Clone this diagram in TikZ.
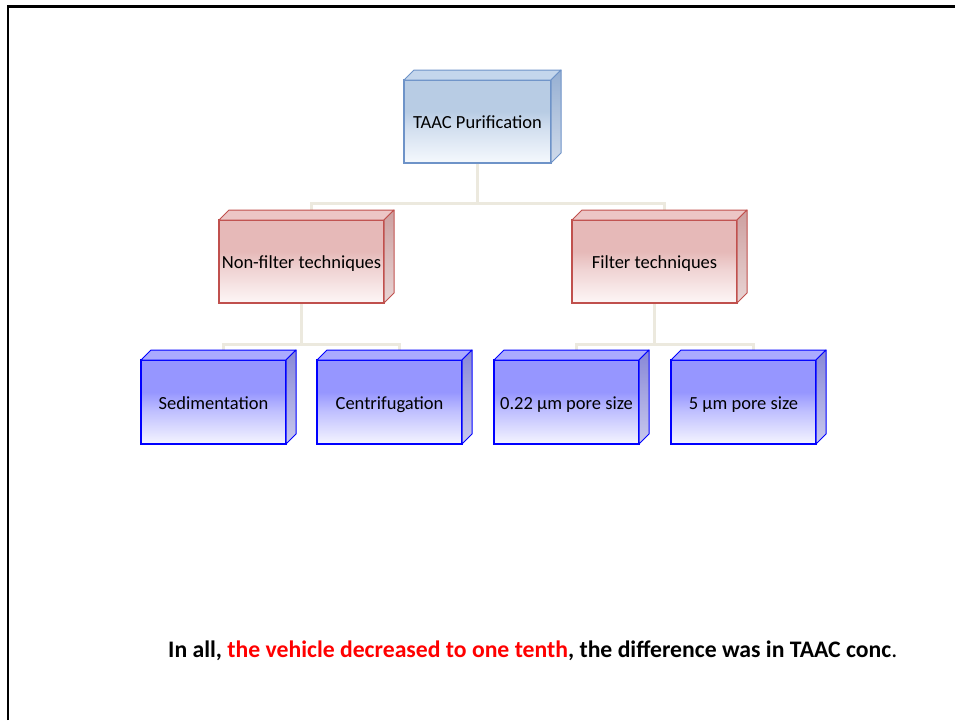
\documentclass[tikz,border=0pt]{standalone}
\usepackage{fontspec}
\setmainfont{Carlito}
\usetikzlibrary{calc,backgrounds}
\definecolor{topC}{RGB}{184,204,228}
\definecolor{topMid}{RGB}{212,224,240}
\definecolor{topBot}{RGB}{245,249,253}
\definecolor{topLine}{RGB}{110,147,200}
\definecolor{topFace}{RGB}{196,214,236}
\definecolor{topSide}{RGB}{150,175,210}
\definecolor{redC}{RGB}{230,185,184}
\definecolor{redMid}{RGB}{240,212,212}
\definecolor{redBot}{RGB}{253,246,246}
\definecolor{redLine}{RGB}{192,80,77}
\definecolor{redFace}{RGB}{236,198,198}
\definecolor{redSide}{RGB}{205,160,160}
\definecolor{bluC}{RGB}{150,150,255}
\definecolor{bluMid}{RGB}{190,190,255}
\definecolor{bluBot}{RGB}{245,245,255}
\definecolor{bluLine}{RGB}{0,0,255}
\definecolor{bluFace}{RGB}{170,170,255}
\definecolor{bluSide}{RGB}{135,135,215}
\definecolor{connC}{RGB}{236,233,222}
\definecolor{redtxt}{RGB}{255,0,0}
\pgfdeclareverticalshading{shTop}{100bp}{color(0bp)=(topBot); color(25bp)=(topBot); color(45bp)=(topMid); color(56bp)=(topC); color(100bp)=(topC)}
\pgfdeclareverticalshading{shRed}{100bp}{color(0bp)=(redBot); color(25bp)=(redBot); color(45bp)=(redMid); color(56bp)=(redC); color(100bp)=(redC)}
\pgfdeclareverticalshading{shBlu}{100bp}{color(0bp)=(bluBot); color(25bp)=(bluBot); color(45bp)=(bluMid); color(56bp)=(bluC); color(100bp)=(bluC)}
\tikzset{
  cube/.style={shade, inner sep=0pt, outer sep=0pt, line width=1.1pt, font=\fontsize{18.5}{20}\selectfont, text=black, text height=17pt, text depth=3pt, minimum height=83},
  topcube/.style={cube, draw=topLine, shading=shTop, minimum width=147},
  redcube/.style={cube, draw=redLine, shading=shRed, minimum width=165},
  blucube/.style={cube, draw=bluLine, shading=shBlu, minimum width=145, minimum height=84},
  conn/.style={draw=connC, line width=3pt},
  face/.style={line width=1pt, line join=round}
}
\newcommand\cubefaces[4]{%
  \filldraw[face, draw=#2, fill=#3] (#1.north west) -- ++(10,-10) -- ($(#1.north east)+(10,-10)$) -- (#1.north east) -- cycle;
  \shade[face, draw=#2, top color=#4, bottom color=#4!45!white] (#1.north east) -- ++(10,-10) -- ($(#1.south east)+(10,-10)$) -- (#1.south east) -- cycle;
}
\begin{document}
\begin{tikzpicture}[x=1pt,y=-1pt]
\useasboundingbox (0,0) rectangle (955,720);
\draw[line width=2.7pt] (8,720) -- (8,6.3) -- (955,6.3);

\node[topcube] (top) at (477.5,121.5) {TAAC Purification};
\cubefaces{top}{topLine}{topFace}{topSide}
\node[redcube] (non) at (301.5,261.5) {Non-filter techniques};
\cubefaces{non}{redLine}{redFace}{redSide}
\node[redcube] (fil) at (654.5,261.5) {Filter techniques};
\cubefaces{fil}{redLine}{redFace}{redSide}
\node[blucube] (sed) at (213.5,402) {Sedimentation};
\cubefaces{sed}{bluLine}{bluFace}{bluSide}
\node[blucube] (cen) at (389.5,402) {Centrifugation};
\cubefaces{cen}{bluLine}{bluFace}{bluSide}
\node[blucube] (p22) at (566.5,402) {0.22 µm pore size};
\cubefaces{p22}{bluLine}{bluFace}{bluSide}
\node[blucube] (p5) at (743.5,402) {5 µm pore size};
\cubefaces{p5}{bluLine}{bluFace}{bluSide}

\coordinate (nonB) at ($(non.north)+(10,-10)$);
\coordinate (filB) at ($(fil.north)+(10,-10)$);
\coordinate (sedB) at ($(sed.north)+(10,-10)$);
\coordinate (cenB) at ($(cen.north)+(10,-10)$);
\coordinate (p22B) at ($(p22.north)+(10,-10)$);
\coordinate (p5B) at ($(p5.north)+(10,-10)$);

\begin{pgfonlayer}{background}
\draw[conn] (top.south) -- ++(0,40) -| (nonB);
\draw[conn] (top.south) -- ++(0,40) -| (filB);
\draw[conn] (non.south) -- ++(0,41) -| (sedB);
\draw[conn] (non.south) -- ++(0,41) -| (cenB);
\draw[conn] (fil.south) -- ++(0,41) -| (p22B);
\draw[conn] (fil.south) -- ++(0,41) -| (p5B);
\end{pgfonlayer}

\node[anchor=base west, inner sep=0pt, font=\fontsize{23.7}{26}\selectfont] (note) at (168,657)
  {\textbf{In all, \textcolor{redtxt}{the vehicle decreased to one tenth}, the difference was in TAAC conc}.};
\end{tikzpicture}
\end{document}
